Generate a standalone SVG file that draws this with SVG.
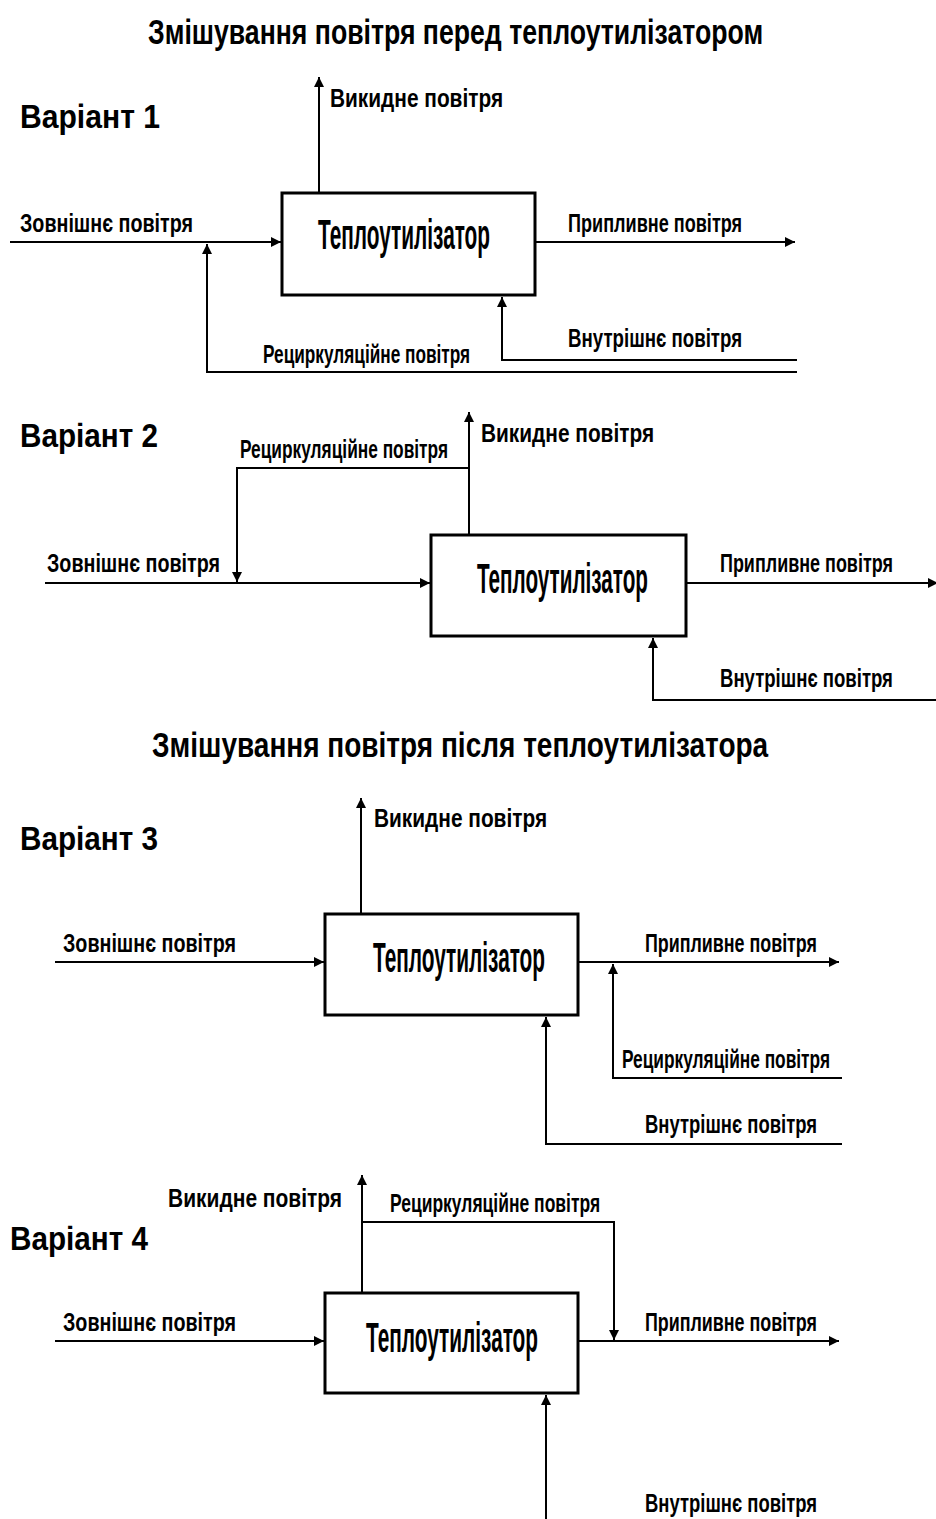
<svg xmlns="http://www.w3.org/2000/svg" width="936" height="1519" viewBox="0 0 936 1519">
<defs>
<style>
text{font-family:"Liberation Sans",Arial,sans-serif;font-weight:bold;fill:#000}
.title{font-size:36px}
.var{font-size:34px}
.lbl{font-size:25px}
.box{font-size:42px}
rect{fill:#fff;stroke:#000;stroke-width:3}
.c path{fill:none;stroke:#000;stroke-width:2;marker-end:url(#ah)}
</style>
<marker id="ah" viewBox="0 0 10 10" refX="10" refY="5" markerWidth="12" markerHeight="10" markerUnits="userSpaceOnUse" orient="auto">
<path d="M0,0 L10,5 L0,10 z" fill="#000"/>
</marker>
</defs>
<rect x="0" y="0" width="936" height="1519" style="fill:#fff;stroke:none"/>

<g id="titles">
<text class="title" transform="translate(148,44) scale(0.742,1)" textLength="829" lengthAdjust="spacingAndGlyphs">Змішування повітря перед теплоутилізатором</text>
<text class="title" transform="translate(152,757) scale(0.78,1)" textLength="790" lengthAdjust="spacingAndGlyphs">Змішування повітря після теплоутилізатора</text>
</g>

<g class="c" id="connectors">
<path d="M319,193 V77"/>
<path d="M10,242 H281"/>
<path d="M797,372 H207 V244"/>
<path d="M536,242 H795"/>
<path d="M797,360 H502 V297"/>
<path d="M469,535 V412"/>
<path d="M469,468 H237 V582"/>
<path d="M45,583 H430"/>
<path d="M687,583 H938"/>
<path d="M936,700 H653 V638"/>
<path d="M361,914 V798"/>
<path d="M55,962 H324"/>
<path d="M579,962 H839"/>
<path d="M842,1078 H613 V964"/>
<path d="M842,1144 H546 V1017"/>
<path d="M362,1293 V1175"/>
<path d="M362,1222 H614 V1340"/>
<path d="M55,1341 H324"/>
<path d="M579,1341 H839"/>
<path d="M546,1519 V1395"/>
</g>

<g id="variant1">
<text class="var" transform="translate(20,128) scale(0.882,1)" textLength="158.7" lengthAdjust="spacingAndGlyphs">Варіант 1</text>
<text class="lbl" transform="translate(330,107) scale(0.836,1)" textLength="207" lengthAdjust="spacingAndGlyphs">Викидне повітря</text>
<text class="lbl" transform="translate(20,232) scale(0.79,1)" textLength="219" lengthAdjust="spacingAndGlyphs">Зовнішнє повітря</text>
<text class="lbl" transform="translate(263,363) scale(0.688,1)" textLength="301" lengthAdjust="spacingAndGlyphs">Рециркуляційне повітря</text>
<text class="lbl" transform="translate(568,232) scale(0.73,1)" textLength="238.5" lengthAdjust="spacingAndGlyphs">Припливне повітря</text>
<text class="lbl" transform="translate(568,347) scale(0.744,1)" textLength="234" lengthAdjust="spacingAndGlyphs">Внутрішнє повітря</text>
</g>
<g id="node1">
<rect x="282" y="193" width="253" height="102"/>
<text class="box" transform="translate(318,249) scale(0.493,1)" textLength="349" lengthAdjust="spacingAndGlyphs">Теплоутилізатор</text>
</g>

<g id="variant2">
<text class="var" transform="translate(20,447) scale(0.87,1)" textLength="158.7" lengthAdjust="spacingAndGlyphs">Варіант 2</text>
<text class="lbl" transform="translate(240,458) scale(0.691,1)" textLength="301" lengthAdjust="spacingAndGlyphs">Рециркуляційне повітря</text>
<text class="lbl" transform="translate(47,572) scale(0.79,1)" textLength="219" lengthAdjust="spacingAndGlyphs">Зовнішнє повітря</text>
<text class="lbl" transform="translate(481,442) scale(0.836,1)" textLength="207" lengthAdjust="spacingAndGlyphs">Викидне повітря</text>
<text class="lbl" transform="translate(720,572) scale(0.725,1)" textLength="238.5" lengthAdjust="spacingAndGlyphs">Припливне повітря</text>
<text class="lbl" transform="translate(720,687) scale(0.739,1)" textLength="234" lengthAdjust="spacingAndGlyphs">Внутрішнє повітря</text>
</g>
<g id="node2">
<rect x="431" y="535" width="255" height="101"/>
<text class="box" transform="translate(477,593) scale(0.49,1)" textLength="349" lengthAdjust="spacingAndGlyphs">Теплоутилізатор</text>
</g>

<g id="variant3">
<text class="var" transform="translate(20,850) scale(0.87,1)" textLength="158.7" lengthAdjust="spacingAndGlyphs">Варіант 3</text>
<text class="lbl" transform="translate(374,827) scale(0.836,1)" textLength="207" lengthAdjust="spacingAndGlyphs">Викидне повітря</text>
<text class="lbl" transform="translate(63,952) scale(0.79,1)" textLength="219" lengthAdjust="spacingAndGlyphs">Зовнішнє повітря</text>
<text class="lbl" transform="translate(645,952) scale(0.721,1)" textLength="238.5" lengthAdjust="spacingAndGlyphs">Припливне повітря</text>
<text class="lbl" transform="translate(622,1068) scale(0.691,1)" textLength="301" lengthAdjust="spacingAndGlyphs">Рециркуляційне повітря</text>
<text class="lbl" transform="translate(645,1133) scale(0.735,1)" textLength="234" lengthAdjust="spacingAndGlyphs">Внутрішнє повітря</text>
</g>
<g id="node3">
<rect x="325" y="914" width="253" height="101"/>
<text class="box" transform="translate(373,972) scale(0.493,1)" textLength="349" lengthAdjust="spacingAndGlyphs">Теплоутилізатор</text>
</g>

<g id="variant4">
<text class="var" transform="translate(10,1250) scale(0.87,1)" textLength="158.7" lengthAdjust="spacingAndGlyphs">Варіант 4</text>
<text class="lbl" transform="translate(168,1207) scale(0.841,1)" textLength="207" lengthAdjust="spacingAndGlyphs">Викидне повітря</text>
<text class="lbl" transform="translate(390,1212) scale(0.698,1)" textLength="301" lengthAdjust="spacingAndGlyphs">Рециркуляційне повітря</text>
<text class="lbl" transform="translate(63,1331) scale(0.79,1)" textLength="219" lengthAdjust="spacingAndGlyphs">Зовнішнє повітря</text>
<text class="lbl" transform="translate(645,1331) scale(0.721,1)" textLength="238.5" lengthAdjust="spacingAndGlyphs">Припливне повітря</text>
<text class="lbl" transform="translate(645,1512) scale(0.735,1)" textLength="234" lengthAdjust="spacingAndGlyphs">Внутрішнє повітря</text>
</g>
<g id="node4">
<rect x="325" y="1293" width="253" height="100"/>
<text class="box" transform="translate(366,1352) scale(0.493,1)" textLength="349" lengthAdjust="spacingAndGlyphs">Теплоутилізатор</text>
</g>
</svg>
